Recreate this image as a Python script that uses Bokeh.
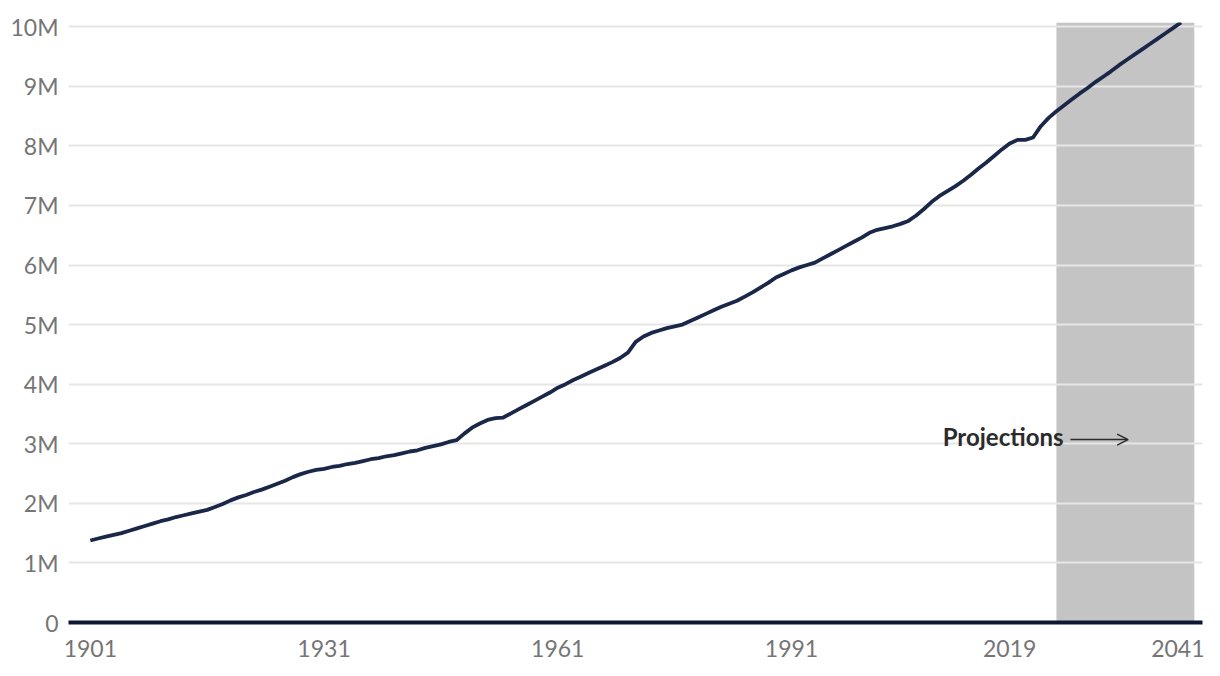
from bokeh.plotting import figure
from bokeh.models import Range1d, FixedTicker, Arrow, OpenHead, Label, ColumnDataSource
from bokeh.embed import file_html
from bokeh.resources import INLINE

years = list(range(1901, 2042))
population_millions = [
    1.376, 1.41, 1.44, 1.47, 1.50, 1.54, 1.58, 1.62, 1.66, 1.70,
    1.73, 1.77, 1.80, 1.83, 1.86, 1.89, 1.94, 1.99, 2.05, 2.10,
    2.14, 2.19, 2.23, 2.28, 2.33, 2.38, 2.44, 2.49, 2.53, 2.56,
    2.58, 2.61, 2.63, 2.66, 2.68, 2.71, 2.74, 2.76, 2.79, 2.81,
    2.84, 2.87, 2.89, 2.93, 2.96, 2.99, 3.03, 3.06, 3.17, 3.27,
    3.34, 3.40, 3.43, 3.44, 3.51, 3.58, 3.65, 3.72, 3.79, 3.86,
    3.94, 4.00, 4.07, 4.13, 4.19, 4.25, 4.31, 4.37, 4.44, 4.53,
    4.71, 4.80, 4.86, 4.90, 4.94, 4.97, 5.00, 5.06, 5.12, 5.18,
    5.24, 5.30, 5.35, 5.40, 5.47, 5.54, 5.62, 5.70, 5.79, 5.85,
    5.91, 5.96, 6.00, 6.04, 6.11, 6.18, 6.25, 6.32, 6.39, 6.46,
    6.54, 6.59, 6.62, 6.65, 6.69, 6.74, 6.83, 6.94, 7.06, 7.16,
    7.24, 7.32, 7.41, 7.51, 7.62, 7.72, 7.83, 7.94, 8.04, 8.10,
    8.10, 8.14, 8.33, 8.47, 8.58, 8.68, 8.78, 8.88, 8.97, 9.07,
    9.16, 9.25, 9.35, 9.44, 9.53, 9.62, 9.71, 9.80, 9.89, 9.98,
    10.07,
]
population = [v * 1e6 for v in population_millions]

x_tick_years = [1901, 1931, 1961, 1991, 2019, 2041]
y_ticks = [0, 1e6, 2e6, 3e6, 4e6, 5e6, 6e6, 7e6, 8e6, 9e6, 10e6]
y_tick_labels = ["0", "1M", "2M", "3M", "4M", "5M", "6M", "7M", "8M", "9M", "10M"]

projection_start = 2025.0
projection_end = 2042.7
projection_label = "Projections"

FONT = "Lato"
LABEL_COLOR = "#757575"

p = figure(width=1204, height=668, output_backend="svg", toolbar_location=None,
           x_range=Range1d(1898.2, 2043.75), y_range=Range1d(0, 10.07e6),
           min_border_left=68, min_border_right=2, min_border_top=22, min_border_bottom=46)
p.outline_line_color = None
p.background_fill_color = "white"
p.border_fill_color = "white"

# projection band
band = p.quad(left=[projection_start], right=[projection_end], bottom=[0], top=[10.07e6],
              fill_color="#c4c4c4", line_color=None)
band.level = "image"

src = ColumnDataSource(dict(x=years, y=population))
p.line("x", "y", source=src, line_color="#1b2749", line_width=3.8, line_join="round")

# grid
p.xgrid.visible = False
p.ygrid.ticker = FixedTicker(ticks=y_ticks)
p.ygrid.grid_line_color = "#e6e6e6"
p.ygrid.grid_line_width = 2

# axes
p.xaxis.ticker = FixedTicker(ticks=x_tick_years)
p.xaxis.axis_line_color = "#0d1633"
p.xaxis.axis_line_width = 4
p.xaxis.major_tick_line_color = None
p.xaxis.minor_tick_line_color = None
p.xaxis.major_tick_out = 0
p.xaxis.major_tick_in = 0
p.xaxis.minor_tick_out = 0
p.xaxis.major_label_text_font = FONT
p.xaxis.major_label_text_font_size = "23px"
p.xaxis.major_label_text_color = LABEL_COLOR
p.xaxis.major_label_standoff = 17

p.yaxis.ticker = FixedTicker(ticks=y_ticks)
p.yaxis.major_label_overrides = {t: l for t, l in zip(y_ticks, y_tick_labels)}
p.yaxis.axis_line_color = None
p.yaxis.major_tick_line_color = None
p.yaxis.minor_tick_line_color = None
p.yaxis.major_tick_out = 0
p.yaxis.major_tick_in = 0
p.yaxis.minor_tick_out = 0
p.yaxis.major_label_text_font = FONT
p.yaxis.major_label_text_font_size = "23px"
p.yaxis.major_label_text_color = LABEL_COLOR
p.yaxis.major_label_standoff = 10

# annotation
p.add_layout(Label(x=2010.4, y=3.12e6, text=projection_label, text_font=FONT,
                   text_font_style="bold", text_font_size="24px", text_color="#2b2b2b",
                   text_baseline="middle", text_align="left"))
p.add_layout(Arrow(x_start=2026.8, y_start=3.07e6, x_end=2034.2, y_end=3.07e6,
                   line_color="#2b2b2b", line_width=1.5,
                   end=OpenHead(size=11, line_color="#2b2b2b", line_width=1.5)))

open("out.html", "w").write(file_html(p, INLINE))
